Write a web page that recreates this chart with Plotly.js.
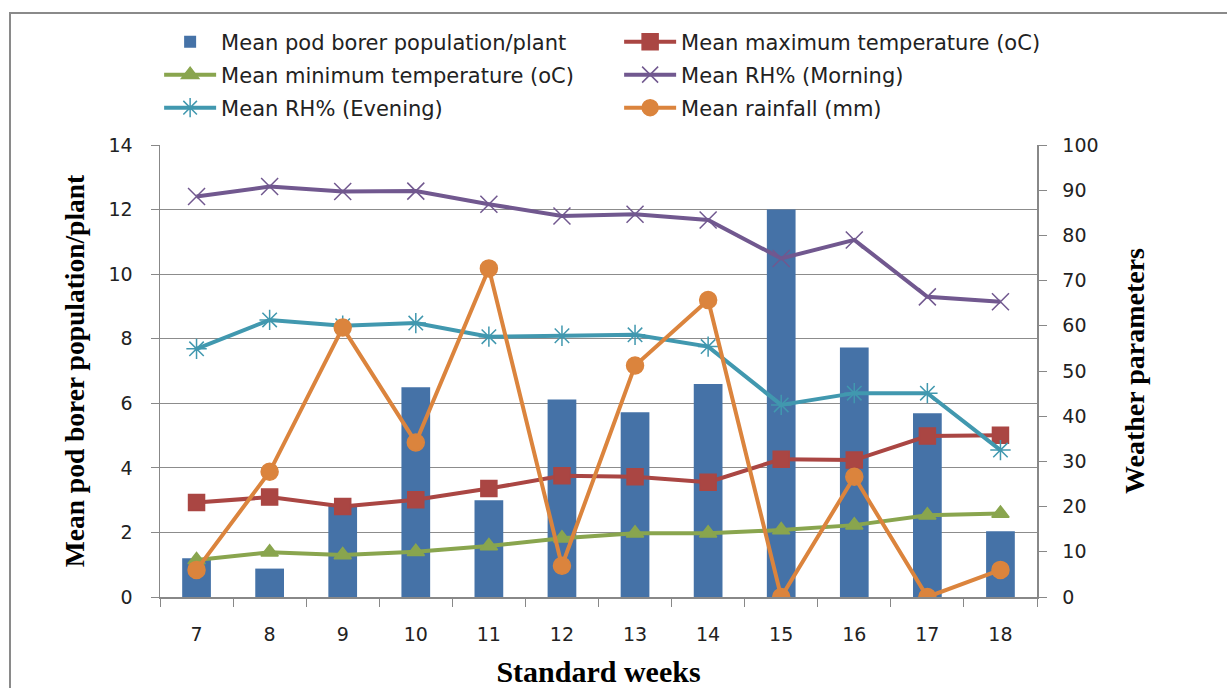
<!DOCTYPE html>
<html>
<head>
<meta charset="utf-8">
<script src="https://cdn.plot.ly/plotly-3.0.1.min.js"></script>
<style>
  html, body { margin: 0; padding: 0; background: #fff; overflow: hidden; }
  #chart { width: 1227px; height: 688px; }
  #frame { position: absolute; left: 9px; top: 12px; width: 1400px; height: 900px;
           border: 2px solid #8a8a8a; pointer-events: none; }
</style>
</head>
<body>
<div id="chart"></div>
<div id="frame"></div>
<script>
const weeks = ['7','8','9','10','11','12','13','14','15','16','17','18'];
const podBorer = [1.2, 0.88, 2.85, 6.5, 3.0, 6.12, 5.72, 6.6, 12.0, 7.73, 5.69, 2.04];
const maxTemp = [20.9, 22.1, 20.0, 21.5, 24.0, 26.8, 26.6, 25.4, 30.5, 30.3, 35.6, 35.8];
const minTemp = [8.2, 9.9, 9.3, 10.0, 11.3, 13.0, 14.1, 14.1, 14.8, 15.9, 18.1, 18.5];
const rhMorning = [88.6, 90.8, 89.7, 89.8, 86.9, 84.3, 84.7, 83.4, 74.9, 79.0, 66.4, 65.3];
const rhEvening = [54.9, 61.3, 60.0, 60.6, 57.6, 57.8, 58.0, 55.4, 42.5, 45.1, 45.1, 32.5];
const rainfall = [6.0, 27.7, 59.6, 34.2, 72.7, 6.9, 51.2, 65.7, 0.0, 26.6, 0.0, 6.0];

const lineTrace = (name, y, color, symbol, size, legend) => ({
  type: 'scatter', mode: 'lines+markers', name: name, x: weeks, y: y, yaxis: 'y2',
  legend: legend,
  line: {color: color, width: 4},
  marker: {color: color, symbol: symbol, size: size, line: {color: color, width: 1.5}}
});

const data = [
  {type: 'bar', name: 'Mean pod borer population/plant', x: weeks, y: podBorer,
   marker: {color: '#4572A7'}, legend: 'legend'},
  lineTrace('Mean maximum temperature (oC)', maxTemp, '#AA4643', 'square', 16, 'legend'),
  lineTrace('Mean minimum temperature (oC)', minTemp, '#89A54E', 'triangle-up', 15, 'legend2'),
  lineTrace('Mean RH% (Morning)', rhMorning, '#71588F', 'x-thin-open', 17, 'legend2'),
  lineTrace('Mean RH% (Evening)', rhEvening, '#4198AF', 'asterisk-open', 17, 'legend3'),
  lineTrace('Mean rainfall (mm)', rainfall, '#DB843D', 'circle', 17, 'legend3')
];

const tickFont = {family: 'DejaVu Sans', size: 19, color: '#222'};
const yTitleFont = {family: 'Liberation Serif', size: 27.5, color: '#000', weight: 'bold'};
const y2TitleFont = {family: 'Liberation Serif', size: 28, color: '#000', weight: 'bold'};
const xTitleFont = {family: 'Liberation Serif', size: 30, color: '#000', weight: 'bold'};

const legendBase = (yc) => ({
  orientation: 'h', x: -0.001, xanchor: 'left', y: yc, yanchor: 'middle',
  font: {family: 'DejaVu Sans', size: 21, color: '#222'},
  entrywidth: 393, entrywidthmode: 'pixels',
  itemwidth: 52, traceorder: 'normal', bgcolor: 'rgba(0,0,0,0)'
});

const layout = {
  width: 1227, height: 688,
  margin: {l: 160, r: 190, t: 145, b: 91},
  paper_bgcolor: '#fff', plot_bgcolor: '#fff',
  showlegend: true,
  bargap: 0.607,
  legend: legendBase(1 + (145 - 42) / 452),
  legend2: legendBase(1 + (145 - 75) / 452),
  legend3: legendBase(1 + (145 - 108) / 452),
  xaxis: {
    type: 'category', range: [-0.5, 11.5], tickson: 'boundaries', ticks: 'outside', ticklen: 8,
    tickcolor: '#888', showline: true, linecolor: '#888', linewidth: 1.5,
    showgrid: false, tickfont: tickFont, ticklabelstandoff: 20,
    title: {text: 'Standard weeks', font: xTitleFont, standoff: 29}
  },
  yaxis: {
    range: [0, 14], dtick: 2, ticks: 'outside', ticklen: 8, tickcolor: '#888',
    showline: true, linecolor: '#888', linewidth: 1.5,
    showgrid: true, gridcolor: '#8c8c8c', gridwidth: 1.2, zeroline: false,
    tickfont: tickFont, ticklabelstandoff: 14,
    title: {text: 'Mean pod borer population/plant', font: yTitleFont, standoff: 16}
  },
  yaxis2: {
    overlaying: 'y', side: 'right', range: [0, 100], dtick: 10,
    ticks: 'outside', ticklen: 8, tickcolor: '#888',
    showline: true, linecolor: '#888', linewidth: 1.5,
    showgrid: false, zeroline: false, tickfont: tickFont, ticklabelstandoff: 12,
    title: {text: 'Weather parameters', font: y2TitleFont, standoff: 27}
  }
};

Plotly.newPlot('chart', data, layout, {displayModeBar: false, staticPlot: true});
</script>
</body>
</html>
